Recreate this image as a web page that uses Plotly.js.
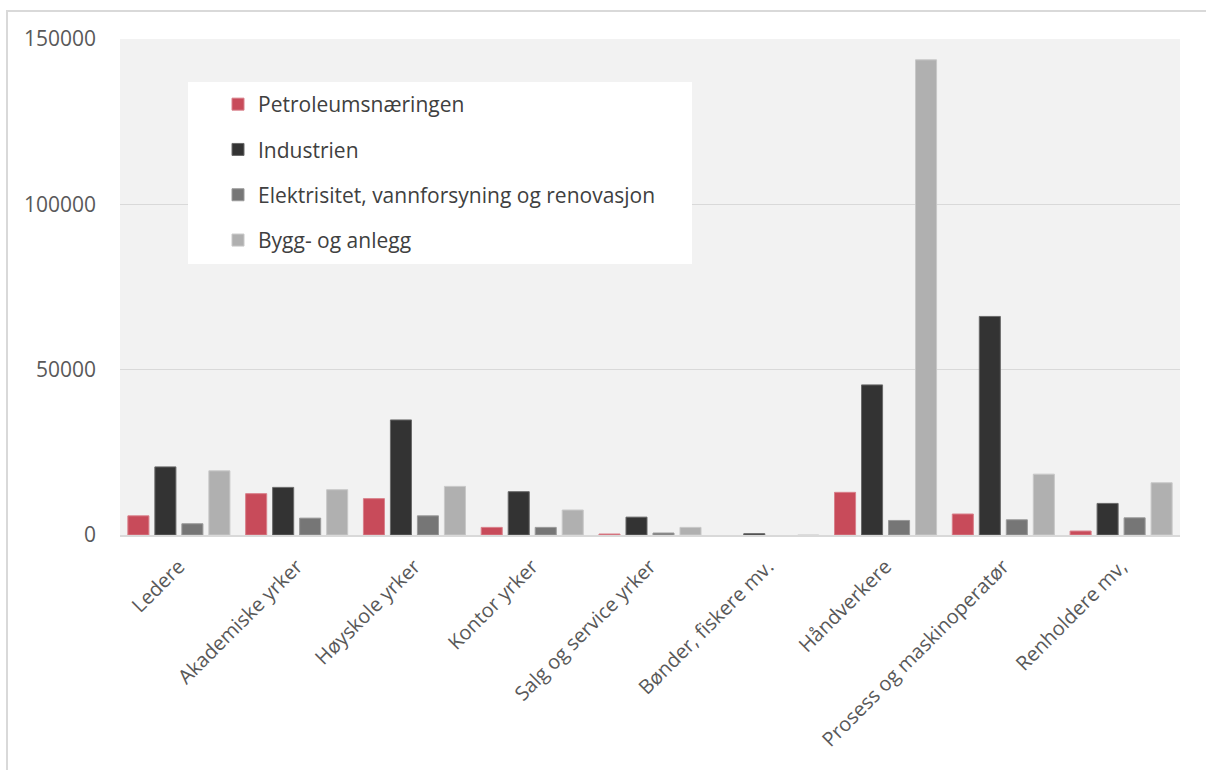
<!DOCTYPE html>
<html>
<head>
<meta charset="utf-8">
<script src="https://cdn.plot.ly/plotly-3.0.1.min.js"></script>
<style>
  html, body { margin: 0; padding: 0; background: #ffffff; }
  #frame {
    position: absolute; left: 6px; top: 10px; width: 1200px; height: 760px;
    border-left: 2px solid #D9D9D9; border-top: 2px solid #D9D9D9; box-sizing: border-box;
  }
  #chart { position: absolute; left: 0; top: 0; width: 1206px; height: 770px; }
</style>
</head>
<body>
<div id="frame"></div>
<div id="chart"></div>
<script>
// Occupational groups
const categories = [
  "Ledere", "Akademiske yrker", "Høyskole yrker", "Kontor yrker",
  "Salg og service yrker", "Bønder, fiskere mv.", "Håndverkere",
  "Prosess og maskinoperatør", "Renholdere mv,"
];

// Employed persons per industry
const petroleum    = [5800, 12500, 11000, 2300, 300, 0, 12900, 6350, 1200];
const industrien   = [20600, 14400, 34800, 13100, 5400, 400, 45400, 66100, 9550];
const elektrisitet = [3400, 5100, 5800, 2300, 600, 0, 4400, 4600, 5200];
const bygg         = [19400, 13700, 14700, 7550, 2300, 100, 143700, 18400, 15800];

const seriesNames = [
  "Petroleumsnæringen",
  "Industrien",
  "Elektrisitet, vannforsyning og renovasjon",
  "Bygg- og anlegg"
];
const seriesColors = ["#C84B5A", "#333333", "#767676", "#B0B0B0"];
const seriesEdges  = ["#D9808B", "#6A6A6A", "#9A9A9A", "#C8C8C8"];
const seriesValues = [petroleum, industrien, elektrisitet, bygg];

const traces = seriesValues.map((vals, i) => ({
  type: "bar",
  name: seriesNames[i],
  x: categories,
  y: vals,
  legendgroup: "g" + i,
  marker: {
    color: seriesColors[i],
    // thin light edge, skipped on empty bars
    line: { color: seriesEdges[i], width: vals.map(v => (v > 200 ? 1 : 0)) }
  },
  hoverinfo: "x+y+name"
}));

const font = "'Open Sans', 'Noto Sans', sans-serif";

const layout = {
  width: 1206,
  height: 770,
  margin: { l: 120, r: 26, t: 39, b: 235 },
  paper_bgcolor: "rgba(0,0,0,0)",
  plot_bgcolor: "#F2F2F2",
  barmode: "group",
  bargap: 0.083,
  bargroupgap: 0.22,
  font: { family: font, size: 20, color: "#595959" },
  xaxis: {
    type: "category",
    tickangle: -45,
    showline: true,
    linecolor: "#D9D9D9",
    linewidth: 2,
    ticks: "",
    ticklabelstandoff: 10,
    tickfont: { family: font, size: 20, color: "#595959" },
    fixedrange: true
  },
  yaxis: {
    range: [0, 150000],
    tickvals: [0, 50000, 100000, 150000],
    ticktext: ["0", "50000", "100000", "150000"],
    showgrid: true,
    gridcolor: "#D9D9D9",
    gridwidth: 1.5,
    zeroline: false,
    ticks: "",
    ticklabelstandoff: 23,
    tickfont: { family: font, size: 21, color: "#595959" },
    fixedrange: true
  },
  shapes: [{
    type: "rect", xref: "paper", yref: "paper", layer: "above",
    x0: (188 - 120) / 1060, x1: (692 - 120) / 1060,
    y0: (535 - 264) / 496, y1: (535 - 82) / 496,
    fillcolor: "#FFFFFF", line: { width: 0 }
  }],
  legend: {
    x: (218 - 120) / 1060,
    y: (535 - 84) / 496,
    xanchor: "left",
    yanchor: "top",
    bgcolor: "rgba(0,0,0,0)",
    traceorder: "grouped",
    tracegroupgap: 15,
    font: { family: font, size: 21, color: "#404040" }
  },
  showlegend: true
};

Plotly.newPlot("chart", traces, layout, { displayModeBar: false, staticPlot: true });
</script>
</body>
</html>
